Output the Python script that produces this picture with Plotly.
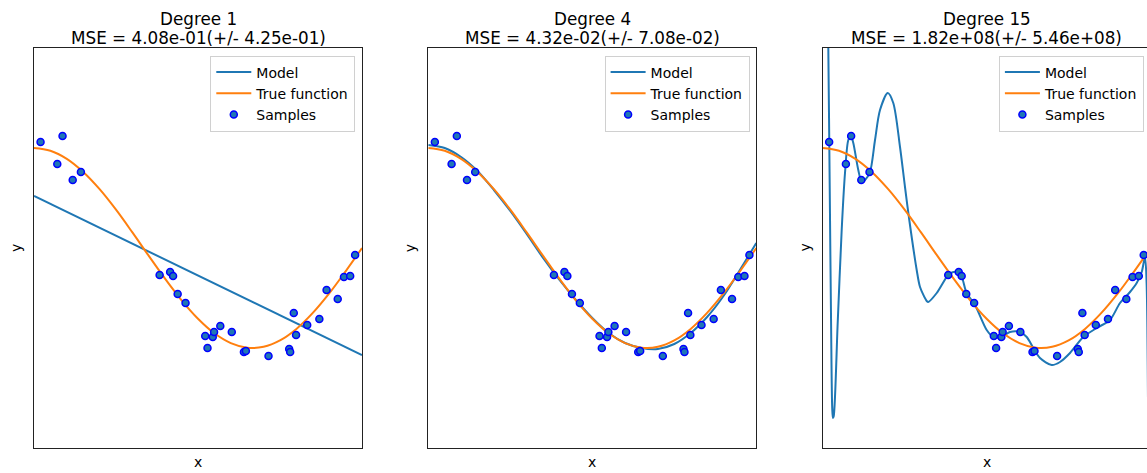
import plotly.graph_objects as go

# ---- data ----
sample_x = [0.020, 0.071, 0.087, 0.118, 0.143, 0.383, 0.415, 0.424, 0.438, 0.462,
            0.522, 0.529, 0.545, 0.549, 0.568, 0.603, 0.640, 0.646, 0.715, 0.778,
            0.781, 0.792, 0.799, 0.833, 0.870, 0.892, 0.926, 0.945, 0.964, 0.979]
sample_y = [1.06, 0.84, 1.12, 0.68, 0.76, -0.27, -0.24, -0.28, -0.46, -0.55,
            -0.88, -1.00, -0.89, -0.84, -0.78, -0.84, -1.04, -1.03, -1.08, -1.01,
            -1.04, -0.65, -0.87, -0.77, -0.71, -0.42, -0.51, -0.29, -0.28, -0.07]

true_x = [0.00, 0.05, 0.10, 0.15, 0.20, 0.25, 0.30, 0.35, 0.40, 0.45, 0.50,
          0.55, 0.60, 0.65, 0.70, 0.75, 0.80, 0.85, 0.90, 0.95, 1.00]
true_y = [1.000, 0.972, 0.891, 0.760, 0.588, 0.383, 0.156, -0.079, -0.309, -0.523, -0.707,
          -0.853, -0.951, -0.997, -0.988, -0.924, -0.809, -0.649, -0.454, -0.233, 0.000]

deg1_x = [0.0, 1.0]
deg1_y = [0.52, -1.07]

deg4_x = [0.00, 0.05, 0.10, 0.15, 0.20, 0.25, 0.30, 0.35, 0.40, 0.45, 0.50,
          0.55, 0.60, 0.65, 0.70, 0.75, 0.80, 0.85, 0.90, 0.95, 1.00]
deg4_y = [1.03, 1.00, 0.91, 0.77, 0.58, 0.37, 0.14, -0.10, -0.32, -0.52, -0.70,
          -0.85, -0.95, -1.00, -1.01, -0.96, -0.85, -0.69, -0.48, -0.22, 0.05]

deg15_x = [0.010, 0.0174, 0.022, 0.026, 0.0293, 0.0315, 0.0340, 0.0460, 0.0582, 0.0683,
           0.0784, 0.0866, 0.0936, 0.1088, 0.1192, 0.1293, 0.1445, 0.1598, 0.1750, 0.1985,
           0.2155, 0.2360, 0.2512, 0.2643, 0.2869, 0.2970, 0.3174, 0.3220, 0.3480, 0.3830,
           0.3985, 0.4190, 0.4390, 0.4646, 0.5003, 0.5204, 0.5460, 0.5713, 0.6018, 0.6223,
           0.6424, 0.6628, 0.6985, 0.7238, 0.7543, 0.7948, 0.8357, 0.8762, 0.9067, 0.9372,
           0.9576, 0.9729, 0.9830, 0.9878, 0.9920]
deg15_y = [4.00, 2.00, 0.50, -0.80, -1.60, -1.70, -1.68, -0.75, 0.18, 0.75,
           1.08, 1.12, 1.05, 0.78, 0.66, 0.68, 0.76, 1.08, 1.38, 1.55,
           1.45, 1.01, 0.61, 0.28, -0.22, -0.39, -0.53, -0.54, -0.45, -0.27,
           -0.24, -0.25, -0.45, -0.57, -0.82, -0.89, -0.89, -0.84, -0.84, -0.89,
           -1.00, -1.10, -1.17, -1.14, -1.05, -0.89, -0.80, -0.72, -0.55, -0.44,
           -0.35, -0.24, -0.09, -0.35, -1.50]

title_line1 = ["Degree 1", "Degree 4", "Degree 15"]
title_line2 = ["MSE = 4.08e-01(+/- 4.25e-01)",
               "MSE = 4.32e-02(+/- 7.08e-02)",
               "MSE = 1.82e+08(+/- 5.46e+08)"]

models = [(deg1_x, deg1_y), (deg4_x, deg4_y), (deg15_x, deg15_y)]

MODEL_C = "#1f77b4"
TRUE_C = "#ff7f0e"
FONT = "DejaVu Sans"

fig = go.Figure()
for i, (mx, my) in enumerate(models):
    sfx = "" if i == 0 else str(i + 1)
    leg = "legend" if i == 0 else "legend" + str(i + 1)
    fig.add_trace(go.Scatter(x=mx, y=my, mode="lines", name="Model",
                             line=dict(color=MODEL_C, width=2,
                                       shape="linear" if i == 0 else "spline",
                                       smoothing=0.8),
                             xaxis="x" + sfx, yaxis="y" + sfx, legend=leg))
    fig.add_trace(go.Scatter(x=true_x, y=true_y, mode="lines", name="True function",
                             line=dict(color=TRUE_C, width=2, shape="spline"),
                             xaxis="x" + sfx, yaxis="y" + sfx, legend=leg))
    fig.add_trace(go.Scatter(x=sample_x, y=sample_y, mode="markers", name="Samples",
                             marker=dict(color=MODEL_C, size=7,
                                         line=dict(color="#0000ff", width=1.5)),
                             xaxis="x" + sfx, yaxis="y" + sfx, legend=leg))

W, H = 1147, 473
ML, MR, MT, MB = 34, 0, 48, 25
PW = W - ML - MR
PH = H - MT - MB
panel_left = [34.0, 428.3, 822.6]
panel_w = 328.0

layout = dict(
    width=W, height=H,
    margin=dict(l=ML, r=MR, t=MT, b=MB),
    plot_bgcolor="white", paper_bgcolor="white",
    font=dict(family=FONT, size=14, color="black"),
    showlegend=True,
)


def py2paper(py):
    return (H - MB - py) / PH


annotations = []
for i in range(3):
    sfx = "" if i == 0 else str(i + 1)
    d0 = (panel_left[i] - ML) / PW
    d1 = min(1.0, (panel_left[i] + panel_w - ML) / PW)
    xmax = 1.0 if i < 2 else (W - panel_left[i]) / panel_w
    layout["xaxis" + sfx] = dict(domain=[d0, d1], range=[0, xmax], showticklabels=False,
                                 ticks="", showgrid=False, zeroline=False,
                                 showline=True, linecolor="#222222", linewidth=1, mirror=True,
                                 anchor="y" + sfx)
    layout["yaxis" + sfx] = dict(domain=[0, 1], range=[-2, 2], showticklabels=False,
                                 ticks="", showgrid=False, zeroline=False,
                                 showline=True, linecolor="#222222", linewidth=1,
                                 mirror=(i < 2), anchor="x" + sfx)
    leg_right = (panel_left[i] + panel_w - 6.7 - ML) / PW
    layout["legend" if i == 0 else "legend" + str(i + 1)] = dict(
        x=leg_right, y=py2paper(55.5), xanchor="right", yanchor="top",
        bgcolor="rgba(255,255,255,0.8)", bordercolor="#d0d0d0", borderwidth=1,
        font=dict(family=FONT, size=14, color="black"), itemwidth=35, tracegroupgap=0)
    annotations.append(dict(text=title_line1[i], xref="x" + sfx, yref="paper", x=0.5,
                            y=py2paper(19), xanchor="center", yanchor="middle",
                            showarrow=False, font=dict(family=FONT, size=16.8, color="black")))
    annotations.append(dict(text=title_line2[i], xref="x" + sfx, yref="paper", x=0.5,
                            y=py2paper(38), xanchor="center", yanchor="middle",
                            showarrow=False, font=dict(family=FONT, size=16.8, color="black")))
    annotations.append(dict(text="x", xref="x" + sfx, yref="paper", x=0.5, y=py2paper(462),
                            xanchor="center", yanchor="middle", showarrow=False,
                            font=dict(family=FONT, size=14, color="black")))
    annotations.append(dict(text="y", xref="paper", yref="paper",
                            x=(panel_left[i] - 18 - ML) / PW, y=0.5, textangle=-90,
                            xanchor="center", yanchor="middle", showarrow=False,
                            font=dict(family=FONT, size=14, color="black")))
layout["annotations"] = annotations

fig.update_layout(**layout)
fig.write_html("out.html", config={"displayModeBar": False},
               post_script="document.body.style.margin='0px';")
